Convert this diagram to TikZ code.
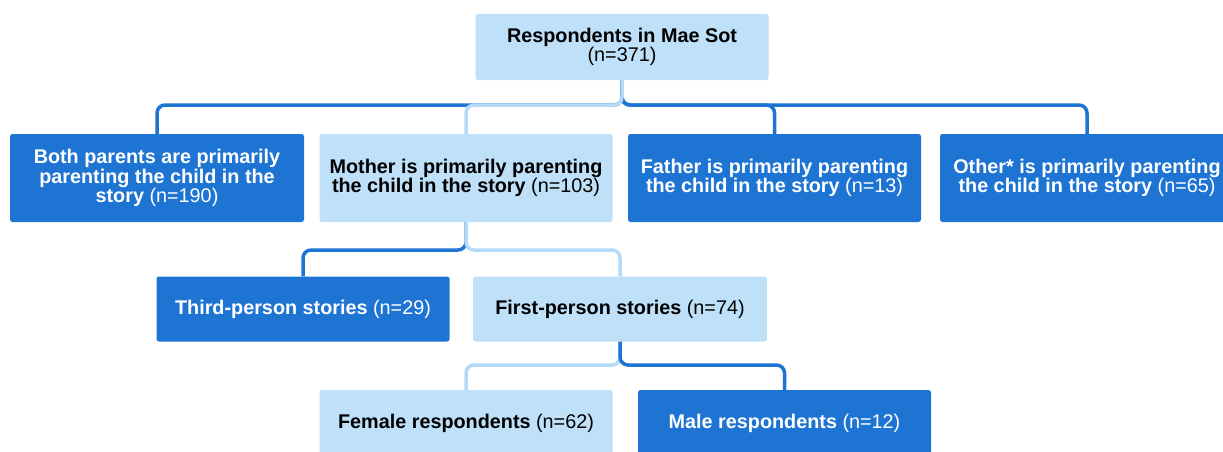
\documentclass[tikz,border=0pt]{standalone}
\usepackage{fontspec}
\setmainfont{Liberation Sans}
\usetikzlibrary{calc}
\definecolor{dkblue}{RGB}{30,116,211}
\definecolor{ltblue}{RGB}{190,224,249}
\definecolor{ltlinec}{RGB}{180,218,247}
\begin{document}
\begin{tikzpicture}[x=1pt,y=-1pt,
  txt/.style={font=\fontsize{19.8}{19.2}\selectfont},
  box/.style={rectangle, rounded corners=2.5pt, minimum width=293pt, align=center, inner sep=0pt, txt},
  dkbox/.style={box, fill=dkblue, text=white},
  ltbox/.style={box, fill=ltblue, text=black},
  dkline/.style={draw=dkblue, line width=3.5pt, rounded corners=8pt},
  ltline/.style={draw=ltlinec, line width=3.5pt, rounded corners=8pt}]
\useasboundingbox (0,0) rectangle (1223,452);
\clip (0,0) rectangle (1223,452);
\coordinate (b1) at (0,105);
\coordinate (b2) at (0,250);
\coordinate (b3) at (0,365);

\node[ltbox, minimum height=66pt] (top) at (622,47) {\textbf{Respondents in Mae Sot}\\(n=371)};
\node[dkbox, minimum height=88pt, minimum width=294pt] (both) at (157,178) {\textbf{Both parents are primarily}\\\textbf{parenting the child in the}\\\textbf{story} (n=190)};
\node[ltbox, minimum height=88pt] (mother) at (466,178) {\textbf{Mother is primarily parenting}\\\textbf{the child in the story} (n=103)};
\node[dkbox, minimum height=88pt] (father) at (774.5,178) {\textbf{Father is primarily parenting}\\\textbf{the child in the story} (n=13)};
\node[dkbox, minimum height=88pt, minimum width=294pt] (other) at (1087,178) {\textbf{Other* is primarily parenting}\\\textbf{the child in the story} (n=65)};
\node[dkbox, minimum height=65pt] (third) at (303,309) {\textbf{Third-person stories} (n=29)};
\node[ltbox, minimum height=65pt, minimum width=294pt] (first) at (620,309) {\textbf{First-person stories} (n=74)};
\node[ltbox, minimum height=70pt] (female) at (466,425) {};
\node[dkbox, minimum height=70pt] (male) at (784.5,425) {};
\node[txt, text=black] (femalet) at (466,423) {\textbf{Female respondents} (n=62)};
\node[txt, text=white] (malet) at (784.5,423) {\textbf{Male respondents} (n=12)};

\draw[dkline] (top.south) -- (top.south |- b1) -| (both.north);
\draw[dkline] (top.south) -- (top.south |- b1) -| (father.north);
\draw[dkline] (top.south) -- (top.south |- b1) -| (other.north);
\draw[ltline] (top.south) -- (top.south |- b1) -| (mother.north);

\draw[dkline] (mother.south) -- (mother.south |- b2) -| (third.north);
\draw[ltline] (mother.south) -- (mother.south |- b2) -| (first.north);

\draw[ltline] (first.south) -- (first.south |- b3) -| (female.north);
\draw[dkline] (first.south) -- (first.south |- b3) -| (male.north);
\end{tikzpicture}
\end{document}
